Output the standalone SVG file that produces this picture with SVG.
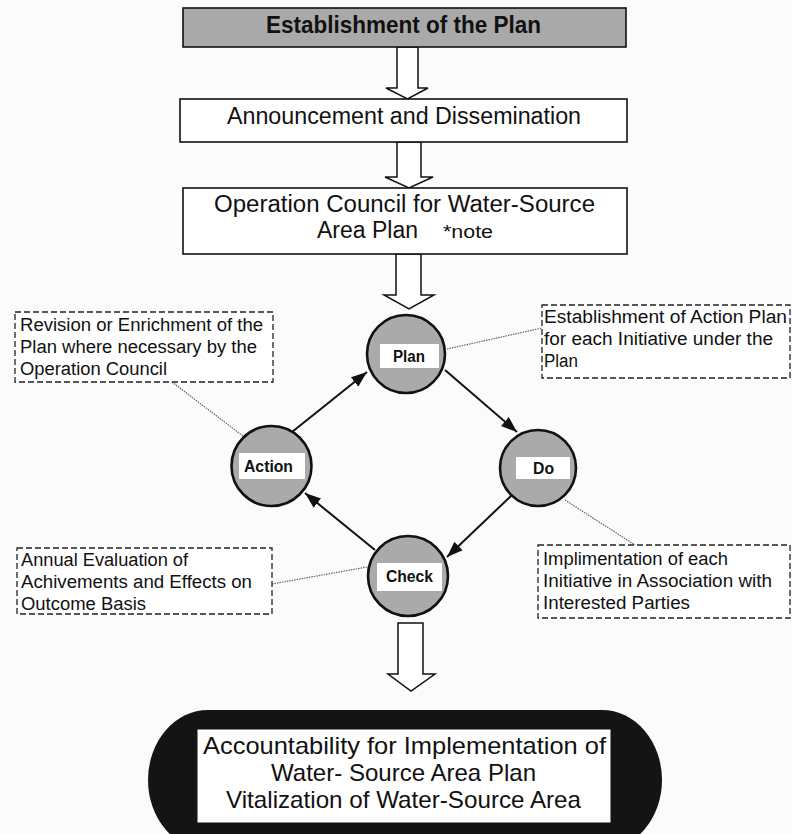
<svg xmlns="http://www.w3.org/2000/svg" width="792" height="834" viewBox="0 0 792 834">
<defs>
<style>
.box{fill:#fff;stroke:#111;stroke-width:1.6}
.blk{fill:#fff;stroke:#111;stroke-width:1.5;stroke-linejoin:miter}
.t{font-family:"Liberation Sans",Arial,sans-serif;fill:#111}
.big{font-size:23px}
.note{font-size:18px}
.lab{font-size:16px;font-weight:bold}
.dash{fill:#fff;stroke:#222;stroke-width:1.3;stroke-dasharray:6 3}
.circ{fill:#aaaaaa;stroke:#111;stroke-width:2.6}
.lbl{fill:#fff}
.flow{stroke:#111;stroke-width:2;fill:none}
.dot{stroke:#666;stroke-width:1.2;stroke-dasharray:1.5 1;fill:none}
.final{font-size:24px}
</style>
<marker id="ah" viewBox="0 0 16 12" refX="16" refY="6" markerWidth="16" markerHeight="12" markerUnits="userSpaceOnUse" orient="auto">
<path d="M0,0 L16,6 L0,12 Z" fill="#111"/>
</marker>
</defs>
<rect width="792" height="834" fill="#fbfbfb"/>

<g id="connectors">
<polygon class="blk" points="397,47 418,47 418,88 428,88 407.5,99 386,88 397,88"/>
<polygon class="blk" points="397,142 421,142 421,177 433,177 409,188 385,177 397,177"/>
<polygon class="blk" points="396,254 421,254 421,295 434,295 409,309 384,295 396,295"/>
<polygon class="blk" points="398,623 423,623 423,674 435,674 411,691 388,674 398,674"/>
<line class="flow" x1="292" y1="432" x2="367" y2="372" marker-end="url(#ah)"/>
<line class="flow" x1="445" y1="370" x2="517" y2="432" marker-end="url(#ah)"/>
<line class="flow" x1="512" y1="495" x2="447" y2="557" marker-end="url(#ah)"/>
<line class="flow" x1="375" y1="550" x2="305" y2="493" marker-end="url(#ah)"/>
<line class="dot" x1="172" y1="382" x2="243" y2="436"/>
<line class="dot" x1="447" y1="349" x2="542" y2="328"/>
<line class="dot" x1="565" y1="500" x2="635" y2="545"/>
<line class="dot" x1="272" y1="584" x2="367" y2="567"/>
</g>

<g id="establishment">
<rect x="183" y="8" width="443" height="39" fill="#a9a9a9" stroke="#111" stroke-width="1.6"/>
<text class="t big" x="266" y="33" font-weight="bold" textLength="275" lengthAdjust="spacingAndGlyphs">Establishment of the Plan</text>
</g>

<g id="announcement">
<rect class="box" x="180" y="99" width="447" height="43"/>
<text class="t big" x="227" y="124" textLength="354" lengthAdjust="spacingAndGlyphs">Announcement and Dissemination</text>
</g>

<g id="council">
<rect class="box" x="183" y="188" width="444" height="66"/>
<text class="t big" x="214" y="212" textLength="381" lengthAdjust="spacingAndGlyphs">Operation Council for Water-Source</text>
<text class="t big" x="317" y="238" textLength="101" lengthAdjust="spacingAndGlyphs">Area Plan</text>
<text class="t note" x="443" y="238" textLength="50" lengthAdjust="spacingAndGlyphs">*note</text>
</g>

<g id="plan">
<circle class="circ" cx="406" cy="354" r="39"/>
<rect class="lbl" x="380" y="344" width="59" height="24"/>
<text class="t lab" x="393" y="362" textLength="32" lengthAdjust="spacingAndGlyphs">Plan</text>
</g>

<g id="do">
<circle class="circ" cx="538" cy="468" r="38"/>
<rect class="lbl" x="516" y="457" width="54" height="22"/>
<text class="t lab" x="533" y="474" textLength="21" lengthAdjust="spacingAndGlyphs">Do</text>
</g>

<g id="check">
<circle class="circ" cx="408" cy="576" r="40"/>
<rect class="lbl" x="377" y="563" width="65" height="28"/>
<text class="t lab" x="386" y="582" textLength="47" lengthAdjust="spacingAndGlyphs">Check</text>
</g>

<g id="action">
<circle class="circ" cx="271.5" cy="466" r="40"/>
<rect class="lbl" x="239" y="453" width="66" height="26"/>
<text class="t lab" x="244" y="472" textLength="49" lengthAdjust="spacingAndGlyphs">Action</text>
</g>

<g id="note-revision">
<rect class="dash" x="15" y="312" width="258" height="70"/>
<text class="t note" x="20" y="331" textLength="243" lengthAdjust="spacingAndGlyphs">Revision or Enrichment of the</text>
<text class="t note" x="20" y="353" textLength="237" lengthAdjust="spacingAndGlyphs">Plan where necessary by the</text>
<text class="t note" x="20" y="375" textLength="147" lengthAdjust="spacingAndGlyphs">Operation Council</text>
</g>

<g id="note-action-plan">
<rect class="dash" x="542" y="305" width="248" height="73"/>
<text class="t note" x="544" y="323" textLength="243" lengthAdjust="spacingAndGlyphs">Establishment of Action Plan</text>
<text class="t note" x="544" y="345" textLength="229" lengthAdjust="spacingAndGlyphs">for each Initiative under the</text>
<text class="t note" x="544" y="367" textLength="34" lengthAdjust="spacingAndGlyphs">Plan</text>
</g>

<g id="note-evaluation">
<rect class="dash" x="17" y="548" width="255" height="66"/>
<text class="t note" x="21" y="566" textLength="167" lengthAdjust="spacingAndGlyphs">Annual Evaluation of</text>
<text class="t note" x="21" y="588" textLength="231" lengthAdjust="spacingAndGlyphs">Achivements and Effects on</text>
<text class="t note" x="21" y="610" textLength="125" lengthAdjust="spacingAndGlyphs">Outcome Basis</text>
</g>

<g id="note-implementation">
<rect class="dash" x="538" y="545" width="252" height="73"/>
<text class="t note" x="543" y="565" textLength="185" lengthAdjust="spacingAndGlyphs">Implimentation of each</text>
<text class="t note" x="543" y="587" textLength="229" lengthAdjust="spacingAndGlyphs">Initiative in Association with</text>
<text class="t note" x="543" y="609" textLength="147" lengthAdjust="spacingAndGlyphs">Interested Parties</text>
</g>

<g id="accountability">
<rect x="148" y="710" width="514" height="140" rx="60" ry="70" fill="#141414"/>
<rect x="197" y="729" width="414" height="94" fill="#fff" stroke="#111" stroke-width="1"/>
<text class="t final" x="203" y="754" textLength="403" lengthAdjust="spacingAndGlyphs">Accountability for Implementation of</text>
<text class="t final" x="271" y="781" textLength="265" lengthAdjust="spacingAndGlyphs">Water- Source Area Plan</text>
<text class="t final" x="226" y="808" textLength="355" lengthAdjust="spacingAndGlyphs">Vitalization of Water-Source Area</text>
</g>
</svg>
